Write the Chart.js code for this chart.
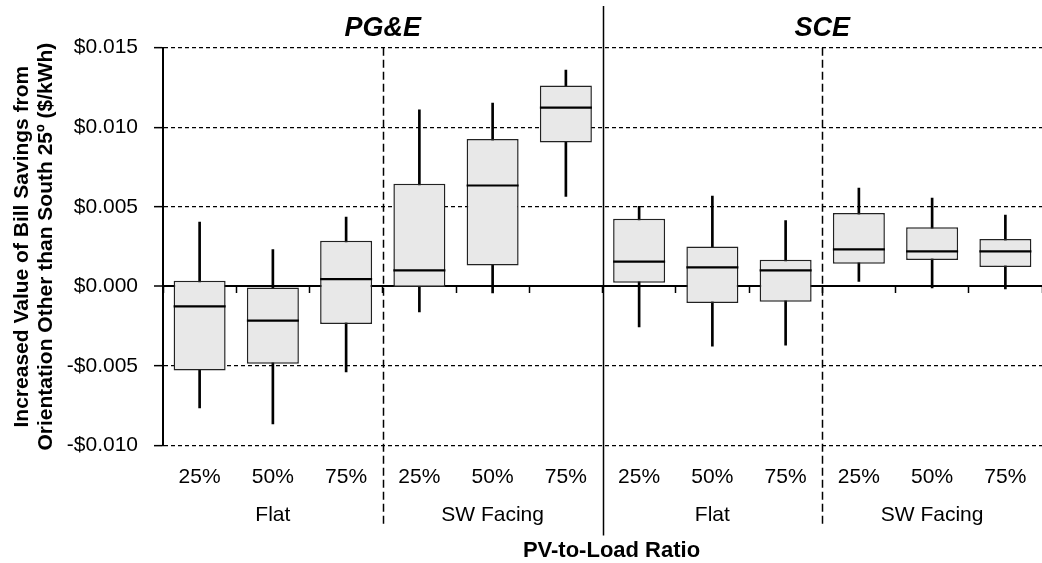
<!DOCTYPE html>
<html>
<head>
<meta charset="utf-8">
<script src="https://cdn.jsdelivr.net/npm/chart.js@4/dist/chart.umd.min.js"></script>
<style>
  body { margin: 0; background: #fff; }
  #wrap { width: 1042px; height: 563px; position: relative; }
</style>
</head>
<body>
<div id="wrap"><canvas id="myChart"></canvas></div>
<script>
    "use strict";

    // categories
    const ratios = ['25%', '50%', '75%', '25%', '50%', '75%', '25%', '50%', '75%', '25%', '50%', '75%'];
    const groups = ['Flat', 'SW Facing', 'Flat', 'SW Facing'];
    const utilities = ['PG&E', 'SCE'];

    // box plot values ($/kWh)
    const whiskerLow  = [-0.00764, -0.00865, -0.00538, -0.00161, -0.00041, 0.00565, -0.00255, -0.00375, -0.00370, 0.00031, -0.00010, -0.00016];
    const quartile1   = [-0.00528, -0.00486, -0.00236, -0.00004, 0.00132, 0.00905, 0.00023, -0.00104, -0.00096, 0.00143, 0.00166, 0.00122];
    const medians     = [-0.00126, -0.00215, 0.00046, 0.00100, 0.00634, 0.01124, 0.00155, 0.00119, 0.00100, 0.00232, 0.00220, 0.00220];
    const quartile3   = [0.00036, 0.00000, 0.00287, 0.00645, 0.00926, 0.01263, 0.00425, 0.00251, 0.00168, 0.00461, 0.00371, 0.00298];
    const whiskerHigh = [0.00404, 0.00231, 0.00436, 0.01110, 0.01152, 0.01359, 0.00503, 0.00568, 0.00413, 0.00618, 0.00555, 0.00448];

    const FONT = '"Liberation Sans", Arial, sans-serif';
    Chart.defaults.color = '#000';
    Chart.defaults.font.family = FONT;

    const money = v => (v < 0 ? '-$' : '$') + Math.abs(v).toFixed(3);

    // no side padding on the category axes, the plot runs to the right edge
    const noSidePadding = scale => {
        scale.paddingLeft = 0;
        scale.paddingRight = 0;
    };

    // separators, group labels, utility titles and the x title
    const decorations = {
        id: 'decorations',
        afterDraw(chart) {
            const {ctx, chartArea, scales: {x}} = chart;
            const edge = i => (x.getPixelForValue(i) + x.getPixelForValue(i + 1)) / 2;
            ctx.save();
            ctx.strokeStyle = '#000';
            ctx.lineWidth = 1.5;
            ctx.setLineDash([8, 4]);
            [2, 8].forEach(i => {
                const px = Math.round(edge(i)) + 0.5;
                ctx.beginPath();
                ctx.moveTo(px, chartArea.top);
                ctx.lineTo(px, chartArea.bottom + 80);
                ctx.stroke();
            });
            ctx.setLineDash([]);
            const mid = Math.round(edge(5)) + 0.5;
            ctx.beginPath();
            ctx.moveTo(mid, 6);
            ctx.lineTo(mid, chartArea.bottom + 90);
            ctx.stroke();

            ctx.fillStyle = '#000';
            ctx.textAlign = 'center';
            ctx.textBaseline = 'middle';
            ctx.font = '21px ' + FONT;
            groups.forEach((g, k) => {
                const cx = (x.getPixelForValue(k * 3) + x.getPixelForValue(k * 3 + 2)) / 2;
                ctx.fillText(g, cx, chartArea.bottom + 70);
            });

            ctx.font = 'bold 22px ' + FONT;
            ctx.fillText('PV-to-Load Ratio', mid + 8, chartArea.bottom + 105);

            ctx.textBaseline = 'alphabetic';
            ctx.font = 'italic bold 27px ' + FONT;
            utilities.forEach((u, k) => {
                ctx.fillText(u, edge(k * 6 + 2), 36);
            });
            ctx.restore();
        }
    };

    const ctx = document.getElementById('myChart').getContext('2d');
    const chart = new Chart(ctx, {
        type: 'bar',
        data: {
            labels: ratios,
            datasets: [
                {
                    type: 'line',
                    label: 'Median',
                    xAxisID: 'x',
                    data: medians,
                    showLine: false,
                    pointStyle: 'line',
                    pointRadius: 26,
                    pointHoverRadius: 26,
                    pointBorderWidth: 2.2,
                    pointBorderColor: '#000',
                    order: 0
                },
                {
                    label: 'Box',
                    xAxisID: 'x',
                    data: quartile1.map((v, i) => [v, quartile3[i]]),
                    backgroundColor: '#e8e8e8',
                    borderColor: '#222',
                    borderWidth: 1.5,
                    borderSkipped: false,
                    barPercentage: 0.71,
                    categoryPercentage: 1,
                    order: 1
                },
                {
                    label: 'Whisker',
                    xAxisID: 'x',
                    data: whiskerLow.map((v, i) => [v, whiskerHigh[i]]),
                    backgroundColor: '#000',
                    borderWidth: 0,
                    barThickness: 2,
                    order: 2
                }
            ]
        },
        options: {
            responsive: true,
            maintainAspectRatio: false,
            animation: false,
            layout: { autoPadding: false, padding: { top: 47.7, left: 0, right: 0, bottom: 0 } },
            datasets: { bar: { grouped: false } },
            plugins: {
                legend: { display: false },
                tooltip: { enabled: false }
            },
            scales: {
                y: {
                    min: -0.010,
                    max: 0.015,
                    afterFit: scale => { scale.width = 163; },
                    ticks: {
                        stepSize: 0.005,
                        padding: 16,
                        font: { size: 21 },
                        callback: v => money(v)
                    },
                    grid: {
                        color: '#000',
                        lineWidth: c => (c.tick && c.tick.value === 0 ? 2 : 1.3),
                        tickLength: 9,
                        tickBorderDash: [],
                        tickWidth: 1.5
                    },
                    border: {
                        display: true,
                        color: '#000',
                        width: 2,
                        dash: c => (c.tick && c.tick.value === 0 ? [] : [4, 3])
                    },
                    title: {
                        display: true,
                        text: ['Increased Value of Bill Savings from', 'Orientation Other than South 25º ($/kWh)'],
                        font: { size: 21, weight: 'bold', lineHeight: 1.15 },
                        padding: { top: 10, bottom: 0 }
                    }
                },
                x: {
                    type: 'category',
                    position: { y: 0 },
                    offset: true,
                    afterFit: noSidePadding,
                    ticks: { display: false },
                    grid: {
                        offset: true,
                        drawOnChartArea: false,
                        drawTicks: true,
                        tickLength: 6,
                        tickColor: '#000',
                        tickWidth: 1.5
                    },
                    border: { display: true, color: '#000', width: 2 }
                },
                x2: {
                    type: 'category',
                    position: 'bottom',
                    offset: true,
                    afterFit: scale => {
                        scale.height = 117.5;
                        noSidePadding(scale);
                    },
                    grid: { display: false, drawTicks: false },
                    border: { display: false },
                    ticks: { padding: 19, font: { size: 21 }, maxRotation: 0, autoSkip: false }
                }
            }
        },
        plugins: [decorations]
    });
</script>
</body>
</html>
